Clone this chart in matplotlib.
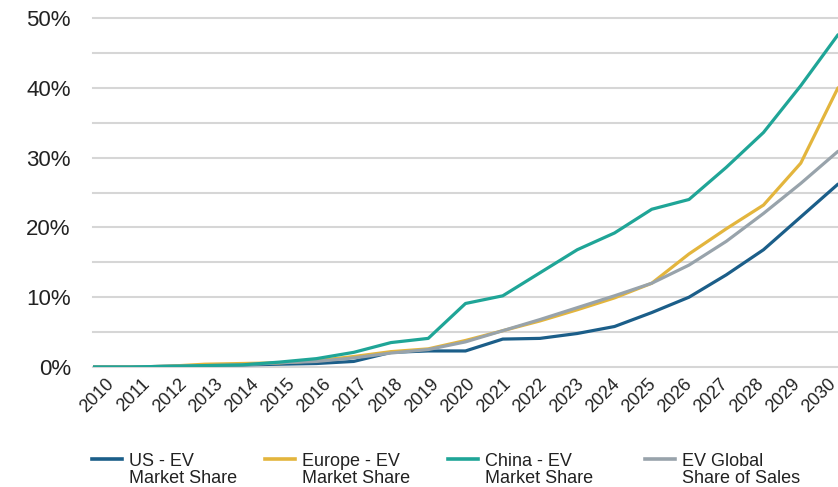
import matplotlib.pyplot as plt
from matplotlib.lines import Line2D
from matplotlib.ticker import MultipleLocator, FuncFormatter

plt.rcParams['font.family'] = ['Liberation Sans', 'DejaVu Sans']

years = list(range(2010, 2031))

us_share = [0.0, 0.0, 0.1, 0.2, 0.3, 0.4, 0.5, 0.8, 2.1, 2.3, 2.3,
            4.0, 4.1, 4.8, 5.8, 7.8, 10.0, 13.2, 16.8, 21.5, 26.2]
europe_share = [0.0, 0.0, 0.1, 0.4, 0.5, 0.6, 0.9, 1.5, 2.2, 2.6, 3.8,
                5.2, 6.6, 8.2, 9.9, 12.0, 16.2, 19.8, 23.2, 29.2, 40.0]
china_share = [0.0, 0.0, 0.1, 0.2, 0.3, 0.7, 1.2, 2.1, 3.5, 4.1, 9.1,
               10.2, 13.5, 16.8, 19.2, 22.6, 24.0, 28.6, 33.6, 40.3, 47.6]
global_share = [0.0, 0.0, 0.1, 0.2, 0.3, 0.6, 0.8, 1.3, 2.0, 2.5, 3.6,
                5.2, 6.8, 8.5, 10.2, 12.0, 14.6, 18.0, 22.0, 26.3, 30.9]

labels = [('US - EV', 'Market Share'), ('Europe - EV', 'Market Share'),
          ('China - EV', 'Market Share'), ('EV Global', 'Share of Sales')]
colors = ['#1b5e89', '#e3b53d', '#1fa597', '#98a3ab']

W, H = 838, 487
fig = plt.figure(figsize=(W / 100, H / 100), dpi=100)
ax = fig.add_axes([93 / W, 1 - 367 / H, 1 - 93 / W, (367 - 18) / H])

# draw order: US, Europe, Global, China (China ends up on top)
series = [us_share, europe_share, china_share, global_share]
zorders = [2, 3, 5, 4]
for vals, col, z in zip(series, colors, zorders):
    ax.plot(years, vals, color=col, lw=2.3, solid_capstyle='round', zorder=z)

ax.set_xlim(2010, 2030)
ax.set_ylim(0, 50)
ax.yaxis.set_major_locator(MultipleLocator(10))
ax.yaxis.set_minor_locator(MultipleLocator(5))
ax.yaxis.set_major_formatter(FuncFormatter(lambda v, p: '{:.0f}%'.format(v)))

# category labels sit slightly tighter than the data points in the original
label_pos = [2010.12 + 0.969 * i for i in range(len(years))]
ax.set_xticks(label_pos)
ax.set_xticklabels([str(y) for y in years], rotation=45, ha='center',
                   fontsize=13, color='#222222')
ax.tick_params(axis='y', labelsize=16, length=0, pad=16, colors='#222222')
ax.tick_params(axis='y', which='minor', length=0)
ax.tick_params(axis='x', length=0, pad=6)
ax.grid(axis='y', which='both', color='#d6d6d6', lw=1.5, clip_on=False)
ax.grid(axis='x', visible=False)
ax.set_axisbelow(True)
for s in ax.spines.values():
    s.set_visible(False)

# legend, handle aligned with first text line as in the original
leg_x = [92, 265, 448, 645]
for x0, (l1, l2), col in zip(leg_x, labels, colors):
    fig.add_artist(Line2D([x0 / W, (x0 + 30) / W], [1 - 459 / H, 1 - 459 / H],
                          color=col, lw=2.6, transform=fig.transFigure))
    fig.text((x0 + 37) / W, 1 - 466 / H, l1, fontsize=13, color='#222222',
             va='baseline', ha='left')
    fig.text((x0 + 37) / W, 1 - 483 / H, l2, fontsize=13, color='#222222',
             va='baseline', ha='left')

fig.savefig('out.png', dpi=100)
